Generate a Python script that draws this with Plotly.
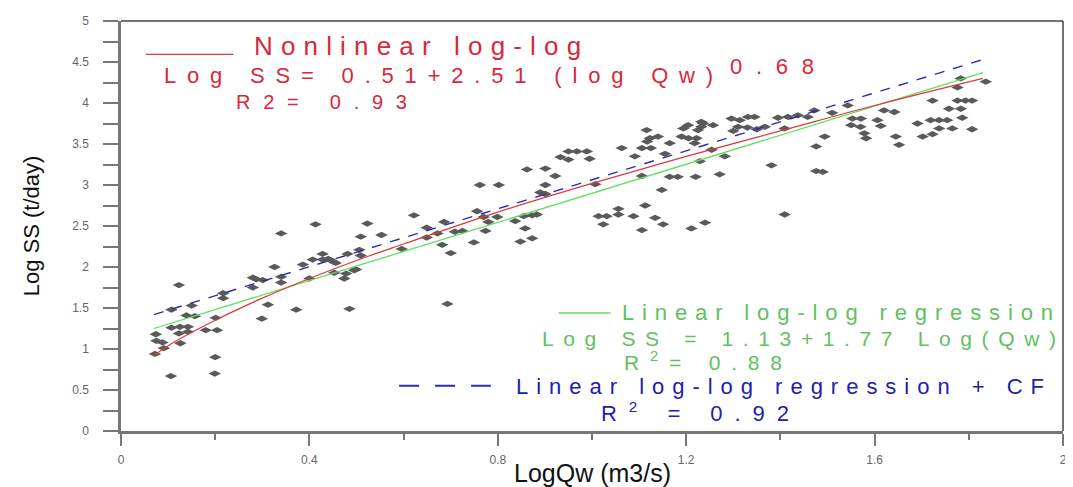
import plotly.graph_objects as go

# ---------------- data ----------------
qw = [0.072, 0.074, 0.075, 0.088, 0.091, 0.106, 0.107, 0.107, 0.123, 0.123, 0.125, 0.126,
      0.139, 0.142, 0.142, 0.150, 0.157, 0.180, 0.199, 0.200, 0.201, 0.204, 0.217, 0.217,
      0.280, 0.287, 0.280, 0.299, 0.301, 0.312, 0.326, 0.340, 0.340, 0.340, 0.372, 0.386,
      0.400, 0.407, 0.413, 0.428, 0.428, 0.440, 0.449, 0.453, 0.456, 0.474, 0.478, 0.481,
      0.485, 0.495, 0.499, 0.506, 0.509, 0.509, 0.523, 0.553, 0.596, 0.622, 0.649, 0.649,
      0.672, 0.682, 0.686, 0.693, 0.700, 0.709, 0.725, 0.749, 0.756, 0.762, 0.770, 0.774,
      0.780, 0.799, 0.802, 0.837, 0.848, 0.855, 0.858, 0.862, 0.873, 0.873, 0.883, 0.890,
      0.901, 0.901, 0.901, 0.922, 0.933, 0.950, 0.950, 0.968, 0.989, 0.995, 1.007, 1.014,
      1.024, 1.031, 1.056, 1.056, 1.063, 1.088, 1.091, 1.106, 1.106, 1.106, 1.113, 1.116,
      1.117, 1.123, 1.125, 1.134, 1.140, 1.148, 1.151, 1.155, 1.165, 1.165, 1.182, 1.190,
      1.194, 1.204, 1.205, 1.211, 1.218, 1.222, 1.220, 1.225, 1.229, 1.232, 1.232, 1.236,
      1.240, 1.254, 1.257, 1.271, 1.282, 1.296, 1.300, 1.314, 1.310, 1.331, 1.330, 1.345,
      1.350, 1.367, 1.381, 1.395, 1.409, 1.409, 1.416, 1.437, 1.458, 1.472, 1.476, 1.476,
      1.490, 1.494, 1.510, 1.543, 1.553, 1.571, 1.550, 1.570, 1.578, 1.582, 1.606, 1.613,
      1.620, 1.642, 1.645, 1.652, 1.691, 1.702, 1.719, 1.723, 1.723, 1.737, 1.737, 1.754,
      1.758, 1.765, 1.776, 1.776, 1.783, 1.783, 1.786, 1.793, 1.807, 1.807, 1.836]
ss = [0.94, 1.18, 1.10, 1.08, 1.01, 0.67, 1.26, 1.48, 1.78, 1.19, 1.27, 1.07,
      1.41, 1.27, 1.21, 1.53, 1.40, 1.23, 0.70, 0.90, 1.38, 1.23, 1.68, 1.62,
      1.87, 1.85, 1.75, 1.37, 1.84, 1.54, 2.00, 2.41, 1.81, 1.88, 1.48, 2.03,
      1.86, 2.09, 2.52, 2.16, 2.09, 2.10, 2.07, 1.93, 2.05, 1.86, 1.92, 2.16,
      1.49, 1.96, 1.97, 2.21, 2.14, 2.37, 2.53, 2.39, 2.22, 2.63, 2.48, 2.36,
      2.41, 2.27, 2.55, 1.55, 2.17, 2.43, 2.44, 2.30, 2.68, 3.00, 2.61, 2.44,
      2.55, 2.61, 3.00, 2.56, 2.31, 2.62, 2.47, 3.19, 2.63, 2.35, 2.64, 2.91,
      2.89, 3.00, 3.20, 3.11, 3.34, 3.41, 3.31, 3.41, 3.41, 3.32, 3.01, 2.62,
      2.52, 2.62, 2.71, 2.64, 3.45, 2.62, 3.35, 3.45, 3.11, 2.45, 2.75, 3.67,
      3.53, 3.57, 3.45, 2.60, 3.59, 2.94, 2.52, 3.38, 3.51, 3.10, 3.10, 3.59,
      3.69, 3.73, 3.57, 2.47, 3.51, 3.57, 3.10, 3.67, 3.29, 3.77, 3.71, 3.75,
      2.54, 3.43, 3.73, 3.13, 3.35, 3.81, 3.66, 3.79, 3.71, 3.83, 3.70, 3.83,
      3.68, 3.71, 3.24, 3.82, 3.69, 2.64, 3.83, 3.85, 3.83, 3.91, 3.47, 3.17,
      3.16, 3.59, 3.88, 3.97, 3.81, 3.81, 3.73, 3.71, 3.63, 3.57, 3.79, 3.72,
      3.91, 3.89, 3.59, 3.49, 3.75, 3.59, 3.79, 3.62, 4.03, 3.79, 3.69, 3.79,
      3.93, 3.69, 4.19, 4.03, 4.30, 3.93, 3.82, 4.03, 4.03, 3.68, 4.26]

# fitted curves
nonlin_x = [0.07, 0.10, 0.20, 0.30, 0.40, 0.50, 0.60, 0.80, 1.00, 1.20, 1.40, 1.60, 1.83]
nonlin_y = [0.92, 1.04, 1.35, 1.62, 1.86, 2.08, 2.28, 2.67, 3.02, 3.35, 3.66, 3.97, 4.30]
lin_x = [0.07, 1.83]
lin_y = [1.25, 4.37]
cf_x = [0.07, 1.83]
cf_y = [1.42, 4.53]

x_tickvals = [0, 0.4, 0.8, 1.2, 1.6, 2]
x_ticktext = ["0", "0.4", "0.8", "1.2", "1.6", "2"]
x_minorvals = [0.2, 0.6, 1.0, 1.4, 1.8]
y_tickvals = [0, 0.5, 1, 1.5, 2, 2.5, 3, 3.5, 4, 4.5, 5]
y_ticktext = ["0", "0.5", "1", "1.5", "2", "2.5", "3", "3.5", "4", "4.5", "5"]
y_minorvals = [0.25, 0.75, 1.25, 1.75, 2.25, 2.75, 3.25, 3.75, 4.25, 4.75]

# ---------------- layout helpers ----------------
# the page body has an 8px default margin, so the figure is drawn 8px in
OFF = 8
W, H = 1073 - OFF, 487 - OFF
PL, PR, PT, PB = 121, 1066, 14, 431          # plot area in window pixels
L, T = PL - OFF, PT - OFF
R = (OFF + W) - PR
B = (OFF + H) - PB
PW, PH = PR - PL, PB - PT


def px2x(px):
    return (px - PL) / PW * 2.0


def py2y(py):
    return (PB - py) / PH * 5.0


ARIAL = {' ': 278, '(': 333, ')': 333, '+': 584, '-': 333, '.': 278, '/': 278, '=': 584,
         'C': 722, 'F': 611, 'L': 556, 'N': 722, 'Q': 778, 'R': 722, 'S': 667, 'a': 556,
         'c': 500, 'd': 556, 'e': 556, 'g': 556, 'i': 222, 'l': 222, 'n': 556, 'o': 556,
         'r': 333, 's': 500, 't': 278, 'w': 722, 'y': 500, 'm': 833}


def spaced(plain, html, size, target, sup_chars=0):
    nat = sum(ARIAL.get(c, 556) for c in plain) / 1000 * size
    nat -= sup_chars * 0.3 * 0.556 * size
    ls = max(0.0, (target - nat) / max(1, len(plain) - 1))
    return f'<span style="letter-spacing:{ls:.2f}px">{html}</span>'


RED = "#d8283a"
GREEN = "#62c062"
BLUE = "#2020b0"
FONT = "Liberation Sans, Arial, sans-serif"

fig = go.Figure()

fig.add_trace(go.Scatter(x=qw, y=ss, mode="markers",
                         marker=dict(symbol="diamond-wide", size=9, color="#5a5a5a"),
                         showlegend=False))
fig.add_trace(go.Scatter(x=lin_x, y=lin_y, mode="lines",
                         line=dict(color="#5fe05f", width=1.3), showlegend=False))
fig.add_trace(go.Scatter(x=nonlin_x, y=nonlin_y, mode="lines", line_shape="spline",
                         line=dict(color="#e0383c", width=1.2), showlegend=False))
fig.add_trace(go.Scatter(x=cf_x, y=cf_y, mode="lines",
                         line=dict(color="#2c2cb0", width=1.4, dash="10px,9px"),
                         showlegend=False))

annos = []


def txt(plain, html, size, color, left, right, cy, sup=0):
    annos.append(dict(text=spaced(plain, html, size, right - left, sup), x=px2x(left),
                      y=py2y(cy), xref="x", yref="y", xanchor="left", yanchor="middle",
                      showarrow=False, font=dict(family=FONT, size=size, color=color)))


txt("Nonlinear log-log", "Nonlinear log-log", 26, RED, 252, 579, 39)
txt("Log SS= 0.51+2.51 (log Qw)", "Log SS= 0.51+2.51 (log Qw)", 22, RED, 162, 711, 69)
txt("0.68", "0.68", 22, RED, 730, 814, 60)
txt("R2= 0.93", "R2= 0.93", 20, RED, 234, 405, 96)
txt("Linear log-log regression", "Linear log-log regression", 22, GREEN, 622, 1053, 310)
txt("Log SS = 1.13+1.77 Log(Qw)", "Log SS = 1.13+1.77 Log(Qw)", 21, GREEN, 541, 1055, 337)
txt("R2= 0.88", "R<sup>2</sup>= 0.88", 21, GREEN, 624, 782, 360, 1)
txt("Linear log-log regression + CF", "Linear log-log regression + CF", 22, BLUE, 515, 1043, 386)
txt("R2 = 0.92", "R<sup>2</sup> = 0.92", 22, BLUE, 601, 789, 412, 1)

# axis titles
annos.append(dict(text="LogQw (m3/s)", xref="paper", yref="paper", x=0.5,
                  y=(PB - 474) / PH, xanchor="center", yanchor="middle",
                  showarrow=False, font=dict(family=FONT, size=25, color="#111")))
annos.append(dict(text="Log SS (t/day)", xref="paper", yref="paper",
                  x=(31 - PL) / PW, y=0.5, xanchor="center", yanchor="middle",
                  textangle=-90, showarrow=False,
                  font=dict(family=FONT, size=22, color="#111")))

shapes = [
    dict(type="line", xref="x", yref="y", x0=px2x(146), x1=px2x(234), y0=py2y(48),
         y1=py2y(48), line=dict(color="#e0383c", width=1.3)),
    dict(type="line", xref="x", yref="y", x0=px2x(560), x1=px2x(612), y0=py2y(311),
         y1=py2y(311), line=dict(color="#5fe05f", width=1.3)),
    dict(type="line", xref="x", yref="y", x0=px2x(400), x1=px2x(492), y0=py2y(385),
         y1=py2y(385), line=dict(color="#2c2cb0", width=2.2, dash="20px,16px")),
    dict(type="line", xref="paper", yref="paper", x0=0, x1=1, y0=1, y1=1,
         line=dict(color="#444", width=1.5)),
    dict(type="line", xref="paper", yref="paper", x0=1, x1=1, y0=0, y1=1,
         line=dict(color="#444", width=1.5)),
]

fig.update_layout(
    width=W, height=H,
    margin=dict(l=L, r=R, t=T, b=B, pad=0),
    paper_bgcolor="white", plot_bgcolor="white",
    font=dict(family=FONT),
    annotations=annos, shapes=shapes,
    xaxis=dict(range=[0, 2], showgrid=False, zeroline=False, showline=True,
               linecolor="#777", linewidth=2.5, ticks="outside", ticklen=12,
               tickwidth=2, tickcolor="#777", tickvals=x_tickvals, ticktext=x_ticktext,
               tickfont=dict(size=12, color="#666"), ticklabelstandoff=4,
               ticklabeloverflow="allow",
               minor=dict(tickvals=x_minorvals, ticks="outside", ticklen=6,
                          tickwidth=1.5, tickcolor="#777")),
    yaxis=dict(range=[0, 5], showgrid=False, zeroline=False, showline=True,
               linecolor="#777", linewidth=2.5, ticks="outside", ticklen=15,
               tickwidth=1.5, tickcolor="#777", tickvals=y_tickvals, ticktext=y_ticktext,
               tickfont=dict(size=12, color="#666"), ticklabelstandoff=12,
               ticklabeloverflow="allow",
               minor=dict(tickvals=y_minorvals, ticks="outside", ticklen=15,
                          tickwidth=1.5, tickcolor="#777")),
)

fig.write_html("out.html")
